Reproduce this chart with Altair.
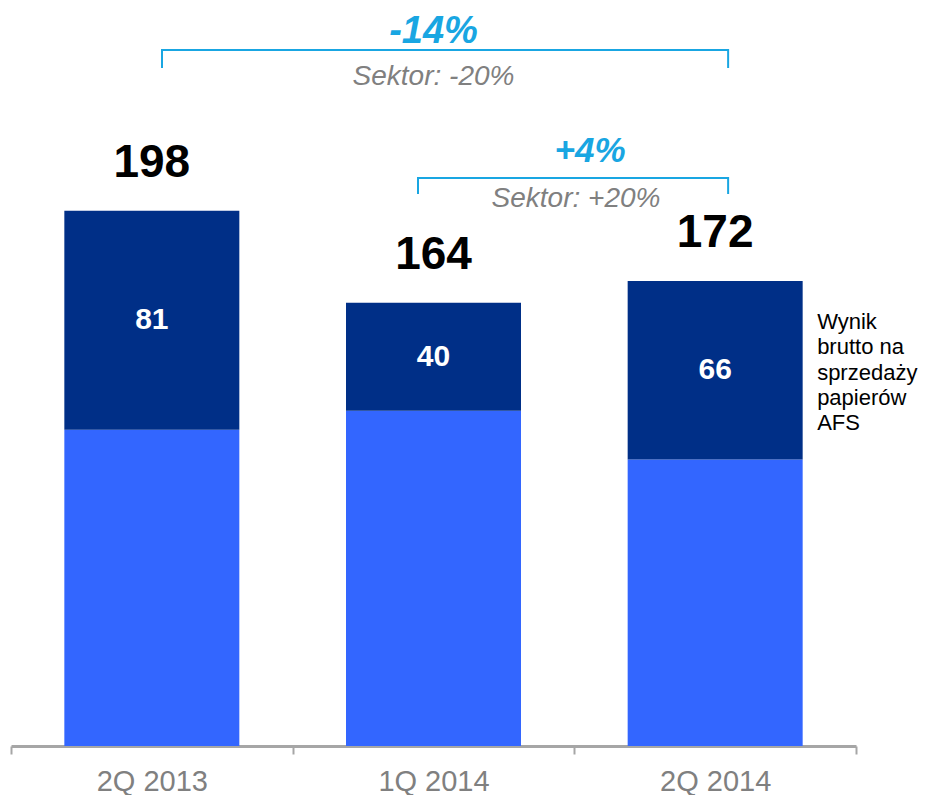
import altair as alt
import pandas as pd

# ---- data ----
categories = ["2Q 2013", "1Q 2014", "2Q 2014"]
totals = [198, 164, 172]
afs_values = [81, 40, 66]
base_values = [117, 124, 106]
change_labels = ["-14%", "+4%"]
sector_labels = ["Sektor: -20%", "Sektor: +20%"]
legend_lines = ["Wynik", "brutto na", "sprzedaży", "papierów", "AFS"]

NAVY = "#002f87"
BLUE = "#3366ff"
CYAN = "#19a6e2"
GREY = "#808080"
AXIS_GREY = "#a6a6a6"
FONT = "Liberation Sans"

rows = []
for c, b, a, t in zip(categories, base_values, afs_values, totals):
    rows.append({"cat": c, "seg": "base", "start": 0, "end": b})
    rows.append({"cat": c, "seg": "afs", "start": b, "end": t})
bars_df = pd.DataFrame(rows)
tot_df = pd.DataFrame({"cat": categories, "total": totals})
afs_df = pd.DataFrame({"cat": categories, "afs": afs_values,
                       "mid": [b + a / 2 for b, a in zip(base_values, afs_values)]})

xscale = alt.Scale(domain=categories, paddingInner=0, paddingOuter=0)
yscale = alt.Scale(domain=[0, 273], nice=False, zero=True)

x_main = alt.X("cat:N", sort=categories, scale=xscale, title=None,
               axis=alt.Axis(labelAngle=0, domainColor=AXIS_GREY, domainWidth=3,
                             tickColor=AXIS_GREY, tickWidth=2, tickSize=8,
                             tickBand="extent", labelFontSize=29, labelColor=GREY,
                             labelFont=FONT, labelPadding=13, grid=False))

bars = alt.Chart(bars_df).mark_bar(size=175).encode(
    x=x_main,
    y=alt.Y("start:Q", scale=yscale, axis=None),
    y2="end:Q",
    color=alt.Color("seg:N", scale=alt.Scale(domain=["base", "afs"], range=[BLUE, NAVY]), legend=None),
)

tot_text = alt.Chart(tot_df).mark_text(dy=-48, fontSize=46, fontWeight="bold", color="black",
                                       font=FONT, baseline="middle").encode(
    x=alt.X("cat:N", sort=categories), y=alt.Y("total:Q"), text="total:Q")

afs_text = alt.Chart(afs_df).mark_text(fontSize=30, fontWeight="bold", color="white",
                                       font=FONT, baseline="middle").encode(
    x=alt.X("cat:N", sort=categories), y=alt.Y("mid:Q"), text="afs:Q")


def one(cat):
    return pd.DataFrame({"cat": [cat], "cat2": [categories[-1]]})


def hline(cat, bp1, bp2, y):
    return alt.Chart(one(cat)).mark_rule(color=CYAN, strokeWidth=2).encode(
        x=alt.X("cat:N", bandPosition=bp1), x2=alt.X2("cat2", bandPosition=bp2), y=alt.value(y))


def vline(cat, bp, y1, y2):
    return alt.Chart(one(cat)).mark_rule(color=CYAN, strokeWidth=2).encode(
        x=alt.X("cat:N", bandPosition=bp), y=alt.value(y1), y2=alt.value(y2))


def label(cat, bp, y, text, size, color, weight="normal", baseline="middle"):
    return alt.Chart(one(cat)).mark_text(text=text, fontSize=size, color=color, font=FONT,
                                         fontStyle="italic", fontWeight=weight,
                                         baseline=baseline, align="center").encode(
        x=alt.X("cat:N", bandPosition=bp), y=alt.value(y))


ann = [
    hline(categories[0], 0.536, 0.546, 42),
    vline(categories[0], 0.536, 41, 60),
    vline(categories[2], 0.546, 41, 60),
    hline(categories[1], 0.445, 0.546, 170),
    vline(categories[1], 0.445, 169, 186),
    vline(categories[2], 0.546, 169, 186),
    label(categories[1], 0.5, 35, change_labels[0], 38, CYAN, "bold", "alphabetic"),
    label(categories[1], 0.5, 69, sector_labels[0], 28, GREY),
    label(categories[2], 0.056, 143, change_labels[1], 35, CYAN, "bold"),
    label(categories[2], 0.006, 191, sector_labels[1], 28, GREY),
]

legend = alt.Chart(one(categories[2])).mark_text(
    text=legend_lines, fontSize=22, lineHeight=25.3, align="left", baseline="middle",
    color="black", font=FONT).encode(
    x=alt.X("cat:N", bandPosition=0.862), y=alt.value(314))

chart = alt.layer(bars, tot_text, afs_text, *ann, legend).properties(
    width=845, height=738,
    autosize=alt.AutoSizeParams(type="none"),
    padding={"left": 3, "top": 0, "right": 64, "bottom": 49},
).configure_view(stroke=None)

chart.save("out.html", embed_options={"renderer": "svg", "actions": False})
